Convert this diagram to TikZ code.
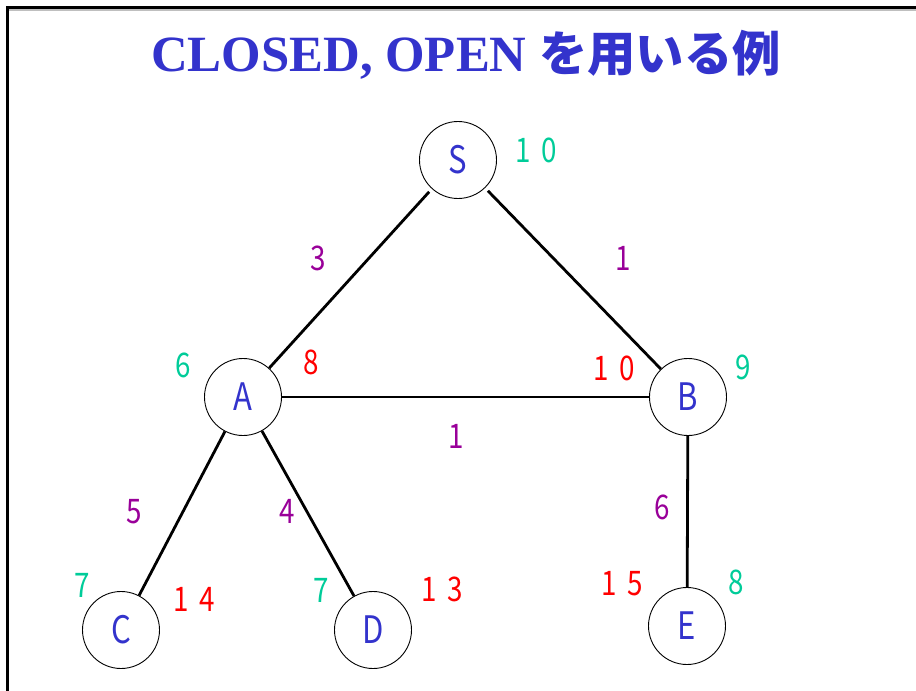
\documentclass[tikz,border=0pt]{standalone}
\usepackage{fontspec}
\setmainfont{Liberation Serif}
\newfontfamily\jpfont{Noto Sans CJK JP}
\newfontfamily\labelfont[FakeStretch=0.82]{Noto Sans CJK JP}
\definecolor{titleblue}{RGB}{51,51,204}
\definecolor{hgreen}{RGB}{0,204,153}
\definecolor{costred}{RGB}{255,0,0}
\definecolor{wpurple}{RGB}{153,0,153}

\begin{document}
\begin{tikzpicture}[x=1bp, y=-1bp,
  vertex/.style={draw, circle, line width=0.9bp, minimum size=77bp, inner sep=0pt,
    text=titleblue, font=\labelfont\fontsize{38}{38}\selectfont},
  edge/.style={line width=2.8bp},
  hval/.style={text=hgreen, inner sep=0pt, font=\labelfont\fontsize{34}{34}\selectfont},
  gval/.style={text=costred, inner sep=0pt, font=\labelfont\fontsize{34}{34}\selectfont},
  wval/.style={text=wpurple, inner sep=0pt, font=\labelfont\fontsize{34}{34}\selectfont}]
\useasboundingbox (0,0) rectangle (916,691);
% frame
\draw[gray!50, line width=1.5bp] (9,10.2) -- (916,10.2);
\draw[line width=3bp] (7.5,691) -- (7.5,7.5) -- (916,7.5);
% title
\node[anchor=base, inner sep=0pt, text=titleblue, font=\bfseries\fontsize{51}{51}\selectfont]
  (title) at (466,72) {CLOSED, OPEN {\jpfont\fontsize{48.5}{48.5}\selectfont を用いる例}};
% vertices
\node[vertex] (S) at (458,160) {S};
\node[vertex] (A) at (243,397) {A};
\node[vertex] (B) at (688,397) {B};
\node[vertex] (C) at (121,630) {C};
\node[vertex] (D) at (373,630) {D};
\node[vertex] (E) at (687,626) {E};
% edges
\draw[edge, shorten <=4bp] (S) -- (A);
\draw[edge, shorten <=4bp] (S) -- (B);
\draw[edge] (A) -- (B);
\draw[edge] (A) -- (C);
\draw[edge] (A) -- (D);
\draw[edge] (B) -- (E);
% edge weights
\node[wval] (wSA) at (318,258) {3};
\node[wval] (wSB) at (623,258) {1};
\node[wval] (wAB) at (456,436) {1};
\node[wval] (wAC) at (134,512) {5};
\node[wval] (wAD) at (287,511) {4};
\node[wval] (wBE) at (662,507) {6};
% heuristic values
\node[hval] (hS) at (536,150) {1\hspace{.3em}0};
\node[hval] (hA) at (183,365) {6};
\node[hval] (hB) at (743,367) {9};
\node[hval] (hC) at (82,585) {7};
\node[hval] (hD) at (321,590) {7};
\node[hval] (hE) at (736,582) {8};
% costs
\node[gval] (gA) at (311,362) {8};
\node[gval] (gB) at (614,368) {1\hspace{.3em}0};
\node[gval] (gC) at (194,599) {1\hspace{.3em}4};
\node[gval] (gD) at (442,589) {1\hspace{.3em}3};
\node[gval] (gE) at (622,584) {1\hspace{.3em}5};
\end{tikzpicture}
\end{document}
